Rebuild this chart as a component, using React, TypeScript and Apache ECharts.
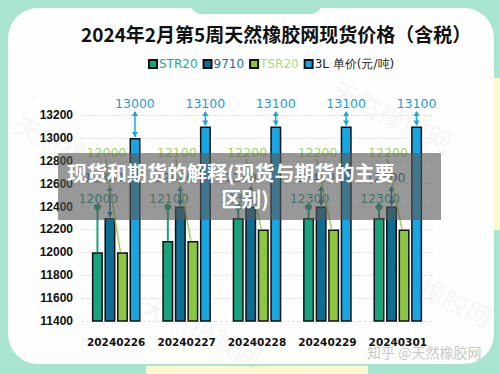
import React, { useEffect, useRef } from "react";
import * as echarts from "echarts";

// Daily spot prices (yuan / tonne, tax included)
const dates = ["20240226", "20240227", "20240228", "20240229", "20240301"];
const seriesNames = ["STR20", "9710", "TSR20", "3L 单价(元/吨)"];
const str20 = [12000, 12100, 12300, 12300, 12300];
const p9710 = [12300, 12400, 12400, 12400, 12400];
const tsr20 = [12000, 12100, 12200, 12200, 12200];
const l3 = [13000, 13100, 13100, 13100, 13100];
const yMin = 11400;
const yMax = 13200;
const yStep = 200;

const barColors = ["#17a37c", "#0d6d93", "#8dc641", "#18a6e2"];
const labelColors = ["#239f86", "#1a6d8c", "#a6d46c", "#1c9cd4"];
const legendTextColors = ["#1fa88c", "#196f98", "#addb82", "#222222"];

const MINT = "#a9e4d1";
const BAR_W = 11;
const STEP = 12.5;
const NUM_FONT = "'DejaVu Sans', sans-serif";
const CJK_FONT = "'Noto Sans CJK SC', 'Noto Sans', sans-serif";

function arrowHead(x: number, y: number, dir: number, color: string) {
  // dir = -1 points up, 1 points down; (x, y) is the tip
  return {
    type: "polygon",
    shape: { points: [[x, y], [x - 3, y - dir * 5], [x + 3, y - dir * 5]] },
    style: { fill: color },
  };
}

export default function App() {
  const ref = useRef<HTMLDivElement>(null);

  useEffect(() => {
    if (!ref.current) return;
    const chart = echarts.init(ref.current, undefined, { renderer: "svg" });
    const allSeries = [str20, p9710, tsr20, l3];

    const annotations: number[][] = [];
    allSeries.forEach((arr, s) => arr.forEach((v, i) => annotations.push([i, v, s])));

    const renderItem = (_params: any, api: any) => {
      const cat = api.value(0);
      const val = api.value(1);
      const s = api.value(2);
      const p = api.coord([cat, val]);
      const x = p[0] + (s - 1.5) * STEP;
      const top = p[1];
      const lc = labelColors[s];
      const children: any[] = [];
      const label = (tx: number, ty: number) => ({
        type: "text",
        style: {
          x: tx,
          y: ty,
          text: String(val),
          fill: lc,
          font: `12.5px ${NUM_FONT}`,
          align: "center",
          verticalAlign: "middle",
        },
      });
      if (s === 0) {
        children.push(
          { type: "line", shape: { x1: x, y1: top, x2: x, y2: 207 }, style: { stroke: barColors[0], lineWidth: 2 } },
          { type: "circle", shape: { cx: x, cy: 207, r: 3.5 }, style: { fill: barColors[0] } },
          label(x + 1, 198)
        );
      } else if (s === 1) {
        children.push(
          { type: "line", shape: { x1: x, y1: 187, x2: x, y2: top - 1 }, style: { stroke: barColors[1], lineWidth: 1.5 } },
          arrowHead(x, 186, -1, barColors[1]),
          arrowHead(x, top - 1, 1, barColors[1]),
          label(x - 6, 177)
        );
      } else if (s === 2) {
        children.push(
          { type: "line", shape: { x1: x - 17, y1: 159, x2: x - 2, y2: top }, style: { stroke: "#9fd05c", lineWidth: 1.5 } },
          label(x - 16, 152)
        );
      } else {
        children.push(
          { type: "line", shape: { x1: x, y1: 112, x2: x, y2: top - 1 }, style: { stroke: barColors[3], lineWidth: 1.5 } },
          arrowHead(x, 111, -1, barColors[3]),
          arrowHead(x, top - 1, 1, barColors[3]),
          label(x, 103)
        );
      }
      return { type: "group", children };
    };

    const watermark = (x: number, y: number) => ({
      type: "text",
      x,
      y,
      rotation: -0.45,
      z: -5,
      style: {
        text: "天然橡胶网",
        font: `bold 26px ${CJK_FONT}`,
        fill: "rgba(0,0,0,0.03)",
      },
    });

    chart.setOption({
      animation: false,
      backgroundColor: MINT,
      graphic: [
        // white card
        { type: "rect", z: -10, shape: { x: 8, y: 8, width: 486, height: 356, r: 30 }, style: { fill: "#fdfefd" } },
        // mint notch at the top edge
        { type: "rect", z: -9, shape: { x: 190, y: -12, width: 132, height: 26, r: 12 }, style: { fill: MINT } },
        // pale yellow strips
        { type: "rect", z: -9, shape: { x: 146, y: 366, width: 222, height: 10 }, style: { fill: "#fcf8d3" } },
        { type: "rect", z: -11, shape: { x: 493, y: 78, width: 8, height: 152 }, style: { fill: "#fbf7cf" } },
        watermark(22, 110),
        watermark(340, 75),
        watermark(150, 290),
        watermark(380, 250),
        {
          type: "text",
          z: -4,
          style: {
            x: 367,
            y: 352,
            text: "知乎 @天然橡胶网",
            font: `14px ${CJK_FONT}`,
            fill: "#c9c9c9",
            verticalAlign: "middle",
          },
        },
        // overlay banner
        {
          type: "rect",
          z: 100,
          shape: { x: 58, y: 153, width: 383, height: 67 },
          style: { fill: "rgba(88,88,88,0.62)" },
        },
        {
          type: "text",
          z: 101,
          style: {
            x: 67,
            y: 172,
            text: "现货和期货的解释(现货与期货的主要",
            font: `bold 20px ${CJK_FONT}`,
            fill: "#ffffff",
            verticalAlign: "middle",
          },
        },
        {
          type: "text",
          z: 101,
          style: {
            x: 245,
            y: 198,
            text: "区别)",
            font: `bold 20px ${CJK_FONT}`,
            fill: "#ffffff",
            align: "center",
            verticalAlign: "middle",
          },
        },
      ],
      title: {
        text: "2024年2月第5周天然橡胶网现货价格（含税）",
        left: 76,
        top: 19,
        textStyle: { fontFamily: CJK_FONT, fontWeight: "bold", fontSize: 19, color: "#111" },
      },
      legend: {
        left: 143,
        top: 53,
        itemWidth: 8,
        itemHeight: 8,
        itemGap: 5,
        icon: "rect",
        textStyle: { fontSize: 12, fontFamily: NUM_FONT, padding: [0, 0, 0, -3] },
        data: seriesNames.map((n, i) => ({ name: n, textStyle: { color: legendTextColors[i] } })),
      },
      grid: { left: 81, right: 67, top: 115, bottom: 53 },
      xAxis: {
        type: "category",
        data: dates,
        axisLine: { show: false },
        axisTick: { show: false },
        axisLabel: {
          color: "#111",
          fontSize: 10.5,
          fontWeight: "bold",
          fontFamily: NUM_FONT,
          margin: 15,
          interval: 0,
        },
      },
      yAxis: {
        type: "value",
        min: yMin,
        max: yMax,
        interval: yStep,
        axisLine: { show: false },
        axisTick: { show: false },
        axisLabel: {
          color: "#111",
          fontSize: 12,
          fontWeight: "bold",
          fontFamily: "'Liberation Sans', sans-serif",
          margin: 8,
          formatter: (v: number) => String(v),
        },
        splitLine: { lineStyle: { color: "#e4e4e4", type: "dashed" } },
      },
      series: [
        ...allSeries.map((arr, i) => ({
          name: seriesNames[i],
          type: "bar",
          data: arr,
          barWidth: BAR_W,
          barGap: "14%",
          itemStyle: { color: barColors[i], borderColor: "#111", borderWidth: 1.5 },
        })),
        {
          type: "custom",
          name: "annotations",
          silent: true,
          z: 5,
          data: annotations,
          encode: { x: 0, y: 1 },
          renderItem,
        },
      ],
    });
    return () => chart.dispose();
  }, []);

  return <div ref={ref} style={{ width: 500, height: 374, position: "fixed", left: 0, top: 0 }} />;
}
